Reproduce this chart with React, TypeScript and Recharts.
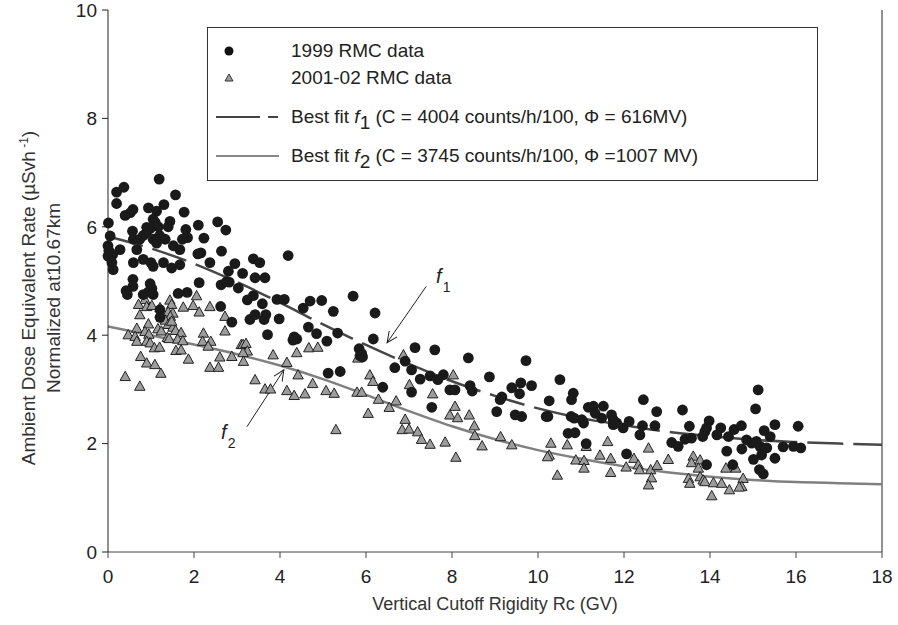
import React from 'react';
import { ComposedChart, Scatter, Line, XAxis, YAxis, ReferenceLine, ReferenceDot } from 'recharts';

// 1999 RMC data [Rc, dose]
const rmc1999: number[][] = [
  [1.19, 6.88], [0.2, 6.64], [0.37, 6.73], [0.2, 6.43], [1.57, 6.59], [0.4, 6.21], [0.52, 6.26], [0.58, 6.32],
  [0.94, 6.35], [1.13, 6.29], [1.3, 6.41], [1.77, 6.27], [0.01, 6.07], [1.05, 6.14], [1.1, 6.08], [1.44, 6.1],
  [0.9, 5.99], [0.98, 5.97], [0.57, 5.92], [1.17, 6.0], [1.4, 6.0], [1.81, 5.95], [2.1, 6.03], [2.55, 6.09],
  [2.74, 5.94], [2.23, 5.79], [0.05, 5.83], [0.0, 5.65], [0.02, 5.56], [0.0, 5.46], [0.11, 5.49], [0.12, 5.21],
  [0.09, 5.34], [0.28, 5.58], [0.59, 5.77], [0.74, 5.77], [0.82, 5.84], [0.9, 5.9], [1.05, 5.77], [1.13, 5.7],
  [1.2, 5.84], [1.33, 5.77], [1.52, 5.65], [1.67, 5.58], [1.73, 5.77], [1.85, 5.8], [0.67, 5.58], [0.59, 5.34],
  [0.82, 5.4], [1.0, 5.34], [1.05, 5.27], [1.29, 5.34], [1.48, 5.24], [1.67, 5.3], [2.09, 5.5], [2.16, 5.52],
  [2.64, 5.55], [2.37, 5.34], [2.8, 5.18], [2.95, 5.32], [3.13, 5.14], [3.38, 5.41], [3.53, 5.34], [3.42, 5.06],
  [3.65, 5.06], [2.63, 4.93], [2.76, 4.99], [2.82, 4.98], [3.03, 4.87], [2.12, 4.97], [3.24, 4.65], [3.38, 4.73],
  [3.59, 4.58], [3.93, 4.66], [4.1, 4.66], [4.19, 5.47], [0.58, 5.03], [0.58, 4.9], [0.98, 4.95], [1.02, 4.86],
  [0.94, 4.8], [0.42, 4.82], [0.45, 4.75], [0.82, 4.75], [1.05, 4.75], [1.63, 4.77], [1.84, 4.79], [2.62, 4.53],
  [1.21, 4.47], [1.21, 4.33], [2.88, 4.24], [3.3, 4.29], [3.42, 4.38], [3.67, 4.38], [3.63, 4.29], [3.98, 4.3],
  [3.71, 4.01], [4.39, 3.93],
  [4.7, 4.63], [4.97, 4.64], [4.54, 4.5], [5.7, 4.72], [5.24, 4.44], [6.21, 4.41], [4.66, 4.15], [4.85, 4.03],
  [4.33, 3.97], [4.3, 3.91], [5.09, 3.89], [5.34, 4.04], [6.17, 3.93], [5.84, 3.75], [5.9, 3.66], [5.92, 3.6],
  [5.86, 3.62], [7.14, 3.77], [7.6, 3.73], [8.38, 3.58], [6.67, 3.4], [6.91, 3.52], [7.06, 3.36], [7.26, 3.19],
  [7.49, 3.25], [7.8, 3.27], [7.67, 3.18], [7.95, 2.99], [8.07, 2.99], [8.42, 3.07], [8.47, 2.97], [8.87, 3.23],
  [5.12, 3.3], [5.4, 3.33], [6.39, 3.04], [7.06, 2.95], [7.53, 2.67], [9.04, 2.59],
  [9.72, 3.53], [9.39, 3.03], [9.6, 3.12], [9.57, 2.92], [9.85, 3.07], [9.16, 2.86], [9.12, 2.81], [9.47, 2.53],
  [9.62, 2.5], [10.51, 3.18], [10.26, 2.79], [10.23, 2.5], [10.19, 2.5], [10.82, 2.93], [10.78, 2.81], [10.77, 2.5],
  [10.84, 2.47], [11.02, 2.44], [11.06, 2.38], [10.7, 2.19], [10.86, 2.2], [11.17, 2.67], [11.29, 2.69], [11.33, 2.56],
  [11.52, 2.69], [11.48, 2.47], [11.71, 2.53], [11.75, 2.44], [11.83, 2.38], [11.75, 2.35], [11.98, 2.29], [12.12, 2.41],
  [12.45, 2.81], [12.76, 2.59], [12.43, 2.33], [12.37, 2.16], [12.72, 2.33], [13.11, 2.02], [13.26, 1.95], [11.12, 2.0],
  [12.06, 1.81],
  [15.12, 2.99], [13.36, 2.62], [15.06, 2.64], [13.52, 2.32], [13.98, 2.42], [13.92, 2.29], [13.88, 2.22], [14.25, 2.29],
  [14.56, 2.26], [14.73, 2.33], [15.26, 2.24], [15.51, 2.35], [16.05, 2.32], [13.42, 2.08], [13.57, 2.1], [13.83, 2.13],
  [14.16, 2.16], [14.43, 2.13], [14.85, 2.07], [14.97, 2.01], [15.08, 2.04], [15.16, 1.95], [15.32, 1.92], [15.4, 2.13],
  [14.74, 1.9], [14.39, 1.86], [15.2, 1.79], [15.51, 1.73], [15.7, 1.94], [15.94, 1.95], [16.11, 1.92], [15.01, 1.71],
  [13.92, 1.61], [14.53, 1.61], [15.15, 1.52], [15.24, 1.44],
];

// 2001-02 RMC data [Rc, dose]
const rmc2001: number[][] = [
  [2.06, 4.73], [1.44, 4.65], [0.86, 4.66], [0.71, 4.57], [0.9, 4.53], [1.02, 4.55], [1.21, 4.51], [1.48, 4.57],
  [1.75, 4.52], [1.98, 4.55], [2.12, 4.43], [2.37, 4.53], [0.74, 4.38], [1.4, 4.43], [1.51, 4.41], [1.45, 4.35],
  [1.33, 4.28], [1.45, 4.24], [2.72, 4.35], [0.94, 4.21], [0.67, 4.13], [0.47, 4.01], [0.63, 3.98], [0.86, 4.07],
  [0.95, 4.02], [1.16, 4.12], [1.24, 4.08], [1.4, 4.2], [1.51, 4.15], [1.48, 4.26], [1.57, 4.09], [1.7, 4.05],
  [0.67, 3.89], [0.9, 3.89], [0.98, 3.86], [1.08, 3.77], [1.2, 3.78], [1.38, 3.96], [1.42, 3.94], [1.62, 3.93],
  [1.74, 3.9], [1.58, 3.72], [1.7, 3.73], [1.87, 3.56], [2.22, 4.04], [2.2, 3.89], [2.39, 3.89], [2.33, 3.8],
  [2.72, 4.08], [2.6, 3.6], [2.37, 3.41], [2.57, 3.41], [2.88, 3.61], [3.1, 3.83], [3.14, 3.83], [3.21, 3.85],
  [3.24, 3.71], [3.14, 3.68], [3.84, 3.64], [4.16, 3.5], [4.42, 3.27], [0.76, 3.61], [0.9, 3.49], [1.09, 3.46],
  [1.23, 3.3], [0.4, 3.24], [0.74, 3.06], [3.42, 3.18], [3.65, 3.01], [3.78, 3.01], [3.15, 3.52],
  [4.39, 3.68], [4.67, 3.77], [4.88, 3.78], [4.16, 2.98], [4.33, 2.89], [4.58, 2.92], [4.76, 3.11], [5.07, 2.98],
  [5.26, 2.93], [5.81, 3.58], [6.09, 3.27], [6.16, 3.15], [5.79, 2.95], [5.9, 2.95], [6.29, 2.82], [6.7, 2.79],
  [6.54, 2.67], [6.05, 2.56], [5.3, 2.26], [6.87, 3.64], [7.01, 3.09], [7.55, 2.92], [8.03, 3.27], [8.07, 2.69],
  [7.95, 2.53], [8.13, 2.48], [8.4, 2.53], [6.91, 2.45], [6.84, 2.26], [7.0, 2.27], [7.2, 2.22], [7.29, 2.08],
  [7.49, 1.99], [7.84, 2.03], [8.09, 1.75], [8.52, 2.33], [8.53, 2.15], [8.7, 1.96],
  [9.13, 2.13], [9.39, 1.98], [10.3, 2.01], [10.68, 1.98], [10.26, 1.79], [10.22, 1.76], [10.45, 1.42], [10.88, 1.7],
  [11.07, 1.69], [11.12, 1.95], [11.07, 1.55], [11.44, 1.79], [11.62, 2.04], [11.69, 1.73], [11.69, 1.47], [12.05, 1.57],
  [12.23, 1.73], [12.33, 1.61], [12.36, 1.52], [12.57, 1.92], [12.62, 1.52], [12.64, 1.37], [12.57, 1.24], [12.77, 1.6],
  [13.03, 1.71],
  [13.61, 1.77], [13.57, 1.65], [13.77, 1.7], [13.73, 1.55], [14.37, 1.55], [14.6, 1.55], [13.5, 1.36], [13.53, 1.27],
  [13.77, 1.39], [13.84, 1.33], [13.88, 1.3], [14.08, 1.28], [14.27, 1.27], [14.77, 1.36], [14.74, 1.21], [14.68, 1.2],
  [14.45, 1.15], [14.04, 1.04],
];

// best fit curves, sampled at each GV
const fitRc = [0, 1, 2, 3, 4, 5, 6, 7, 8, 9, 10, 11, 12, 13, 14, 15, 16, 17, 18];
const fitF1 = [5.82, 5.6, 5.32, 4.98, 4.6, 4.2, 3.82, 3.47, 3.15, 2.88, 2.65, 2.47, 2.34, 2.22, 2.14, 2.07, 2.03, 2.0, 1.98];
const fitF2 = [4.16, 4.0, 3.83, 3.65, 3.44, 3.19, 2.9, 2.6, 2.32, 2.08, 1.88, 1.72, 1.58, 1.47, 1.39, 1.33, 1.29, 1.27, 1.25];

const xTicks = [0, 2, 4, 6, 8, 10, 12, 14, 16, 18];
const yTicks = [0, 2, 4, 6, 8, 10];

const font = '"Liberation Sans", Arial, Helvetica, sans-serif';

const pts1999 = rmc1999.map(([x, y]) => ({ x, y }));
const pts2001 = rmc2001.map(([x, y]) => ({ x, y }));
const f1Data = fitRc.map((x, i) => ({ x, y: fitF1[i] }));
const f2Data = fitRc.map((x, i) => ({ x, y: fitF2[i] }));

const BlackDot = (p: any) => <circle cx={p.cx} cy={p.cy} r={5.4} fill="#1a1a1a" />;

const GreyTriangle = (p: any) => {
  const s = 5.2;
  const pts = `${p.cx},${p.cy - s} ${p.cx - s},${p.cy + s * 0.8} ${p.cx + s},${p.cy + s * 0.8}`;
  return <polygon points={pts} fill="#9c9c9c" stroke="#222" strokeWidth={1} />;
};

const fLabel = (sub: string) => (p: any) => (
  <text x={p.cx} y={p.cy} fontFamily={font} fill="#222">
    <tspan fontSize={20} fontStyle="italic">f</tspan>
    <tspan fontSize={14} dx={1} dy={9}>{sub}</tspan>
  </text>
);

const YTitle = () => (
  <g fontFamily={font} fontSize={19} fill="#333" textAnchor="middle">
    <text transform="translate(35,298) rotate(-90)">
      Ambient Dose Equivalent Rate (µSvh
      <tspan fontSize={12} dy={-7}> -1</tspan>
      <tspan dy={7}>)</tspan>
    </text>
    <text transform="translate(60,298) rotate(-90)">Normalized at10.67km</text>
  </g>
);

const XTitle = () => (
  <text x={495} y={610} fontFamily={font} fontSize={18} fill="#333" textAnchor="middle">
    Vertical Cutoff Rigidity Rc (GV)
  </text>
);

const legendRow: React.CSSProperties = { position: 'absolute', left: 0, height: 24, display: 'flex', alignItems: 'center' };
const legendText: React.CSSProperties = { position: 'absolute', left: 83, whiteSpace: 'nowrap' };

const LegendBox = () => (
  <div
    style={{
      position: 'absolute', left: 207, top: 27, width: 609, height: 152, border: '1px solid #333',
      background: '#fff', fontFamily: font, fontSize: 19, color: '#222',
    }}
  >
    <div style={{ ...legendRow, top: 11 }}>
      <svg width={80} height={24}><circle cx={21} cy={12} r={4.5} fill="#111" /></svg>
      <span style={legendText}>1999 RMC data</span>
    </div>
    <div style={{ ...legendRow, top: 38 }}>
      <svg width={80} height={24}><polygon points="21,8 17,15 25,15" fill="#9c9c9c" stroke="#333" strokeWidth={1} /></svg>
      <span style={legendText}>2001-02 RMC data</span>
    </div>
    <div style={{ ...legendRow, top: 77 }}>
      <svg width={80} height={24}>
        <line x1={8} y1={12} x2={52} y2={12} stroke="#444" strokeWidth={2} />
        <line x1={60} y1={12} x2={70} y2={12} stroke="#444" strokeWidth={2} />
      </svg>
      <span style={legendText}>
        Best fit <i>f</i><span style={{ position: 'relative', top: 6 }}>1</span> (C = 4004 counts/h/100, Φ = 616MV)
      </span>
    </div>
    <div style={{ ...legendRow, top: 116 }}>
      <svg width={80} height={24}>
        <line x1={8} y1={12} x2={71} y2={12} stroke="#888" strokeWidth={2} />
      </svg>
      <span style={legendText}>
        Best fit <i>f</i><span style={{ position: 'relative', top: 6 }}>2</span> (C = 3745 counts/h/100, Φ =1007 MV)
      </span>
    </div>
  </div>
);

export default function App() {
  return (
    <div style={{ position: 'absolute', left: 0, top: 0, width: 898, height: 625, background: '#fff' }}>
      <svg width={0} height={0} style={{ position: 'absolute' }}>
        <defs>
          <marker id="openArrow" viewBox="0 0 12 12" refX={11} refY={6} markerWidth={12} markerHeight={12}
            markerUnits="userSpaceOnUse" orient="auto">
            <path d="M0,1 L11,6 L0,11" fill="none" stroke="#222" strokeWidth={1} />
          </marker>
        </defs>
      </svg>
      <ComposedChart width={898} height={625} margin={{ top: 10, right: 16, bottom: 43, left: 48 }}>
        <XAxis
          type="number" dataKey="x" domain={[0, 18]} ticks={xTicks} interval={0}
          tickSize={6} tickMargin={12} height={30} stroke="#444"
          tick={{ fill: '#222', fontSize: 19, fontFamily: font }}
          label={{ content: XTitle }}
        />
        <YAxis
          type="number" dataKey="y" domain={[0, 10]} ticks={yTicks} interval={0}
          tickSize={6} tickMargin={5} width={60} stroke="#222"
          tick={{ fill: '#222', fontSize: 19, fontFamily: font }}
          label={{ content: YTitle }}
        />
        <ReferenceLine x={18} stroke="#222" strokeWidth={1} />
        <Scatter data={pts2001} dataKey="y" shape={GreyTriangle} isAnimationActive={false} />
        <Scatter data={pts1999} dataKey="y" shape={BlackDot} isAnimationActive={false} />
        <Line data={f2Data} dataKey="y" type="monotone" stroke="#808080" strokeWidth={2.5} dot={false} isAnimationActive={false} />
        <Line data={f1Data} dataKey="y" type="monotone" stroke="#474747" strokeWidth={2.5} strokeDasharray="36 10"
          dot={false} isAnimationActive={false} />
        <ReferenceLine segment={[{ x: 7.4, y: 4.9 }, { x: 6.49, y: 3.86 }]} stroke="#222" strokeWidth={1} markerEnd="url(#openArrow)" />
        <ReferenceLine segment={[{ x: 3.23, y: 2.31 }, { x: 4.09, y: 3.36 }]} stroke="#222" strokeWidth={1} markerEnd="url(#openArrow)" />
        <ReferenceDot x={7.63} y={4.97} r={0} shape={fLabel('1')} />
        <ReferenceDot x={2.63} y={2.09} r={0} shape={fLabel('2')} />
      </ComposedChart>
      <LegendBox />
    </div>
  );
}
